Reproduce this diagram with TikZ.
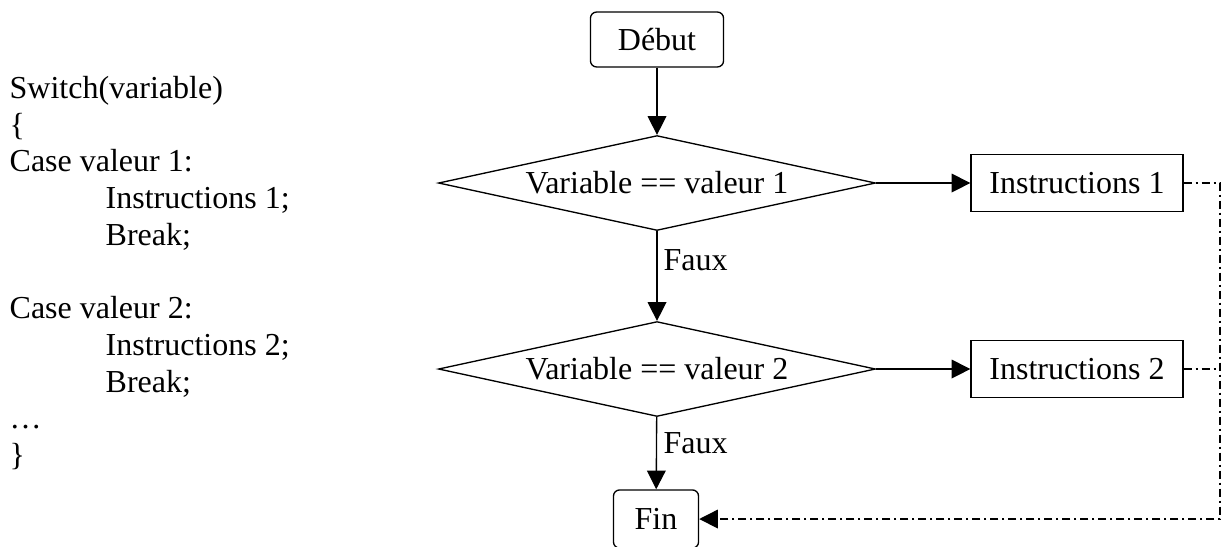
\documentclass[tikz,border=0pt]{standalone}
\usepackage{fontspec}
\setmainfont{Liberation Serif}
\usetikzlibrary{shapes.geometric,arrows.meta}
\begin{document}
\begin{tikzpicture}[x=0.375pt,y=-0.375pt,
  font=\fontsize{12pt}{13.76pt}\selectfont, line width=0.5pt,
  box/.style={draw, rectangle, minimum width=79.5pt, minimum height=21.4pt, inner sep=0pt},
  term/.style={draw, rectangle, rounded corners=2.3pt, inner sep=0pt},
  test/.style={draw, diamond, shape aspect=4.6, minimum width=163.9pt,
    minimum height=35.6pt, inner sep=0.5pt},
  arr/.style={-{Triangle[length=7pt,width=7pt]}},
  link/.style={dash pattern=on 3pt off 1.5pt on 0.75pt off 1.5pt},
  code/.style={anchor=base west, inner sep=0pt},
  lab/.style={anchor=base west, inner sep=0pt}]
\useasboundingbox (0,0) rectangle (1226,546);

% switch statement
\node[code] (c1) at (9,98.5) {Switch(variable)};
\node[code] (c2) at (9,135.2) {\{};
\node[code] (c3) at (9,171.9) {Case valeur 1:};
\node[code] (c4) at (105,208.6) {Instructions 1;};
\node[code] (c5) at (105,245.3) {Break;};
\node[code] (c6) at (9,318.7) {Case valeur 2:};
\node[code] (c7) at (105,355.4) {Instructions 2;};
\node[code] (c8) at (105,392.1) {Break;};
\node[code] (c9) at (9,428.8) {…};
\node[code] (c10) at (9,465.5) {\}};

% flowchart
\node[term, minimum width=49.9pt, minimum height=20.6pt] (debut) at (657,39.5) {Début};
\node[test] (t1) at (657,183) {Variable == valeur 1};
\node[test] (t2) at (657,369) {Variable == valeur 2};
\node[box] (i1) at (1077,183) {Instructions 1};
\node[box] (i2) at (1077,369) {Instructions 2};
\node[term, minimum width=31.9pt, minimum height=21.8pt] (fin) at (656,519) {Fin};
\coordinate (rail) at (1220,0);

\node[lab] (f1) at (663,270) {Faux};
\node[lab] (f2) at (663,453) {Faux};

\draw[arr] (debut) -- (t1);
\draw[arr] (t1) -- (t2);
\draw[arr] (t2) -- (fin);
\draw[arr] (t1) -- (i1);
\draw[arr] (t2) -- (i2);

\draw[link, arr] (i1.east) -| (rail |- fin.east) -- (fin.east);
\draw[link] (i2.east) -- (i2.east -| rail);
\end{tikzpicture}
\end{document}
